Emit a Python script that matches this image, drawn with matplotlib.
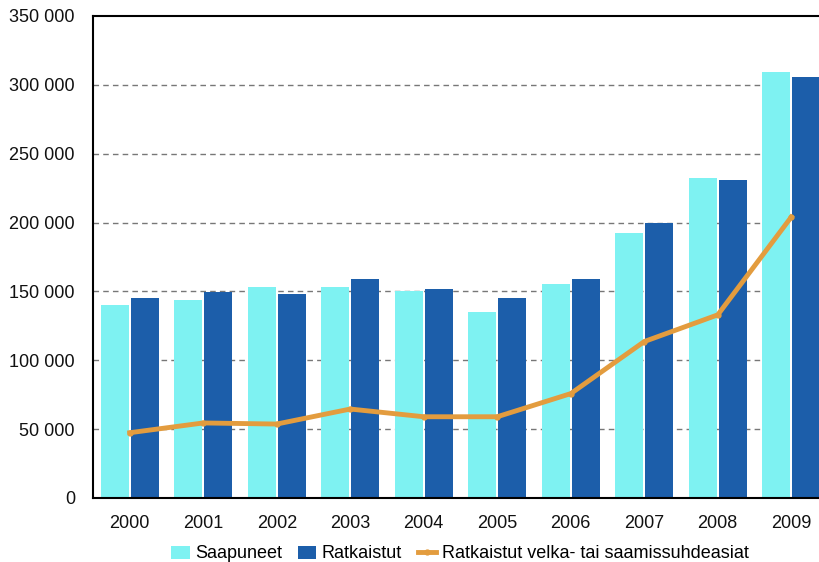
import numpy as np
import matplotlib.pyplot as plt
from matplotlib.ticker import FuncFormatter

plt.rcParams['font.family'] = ['Liberation Sans', 'DejaVu Sans']

years = ['2000', '2001', '2002', '2003', '2004', '2005', '2006', '2007', '2008', '2009']
saapuneet = [140300, 143700, 152900, 152900, 150000, 134700, 155400, 192700, 232700, 309000]
ratkaistut = [144900, 149300, 148100, 159000, 151700, 144900, 159000, 200000, 231000, 305700]
velka_saamis = [47400, 54500, 53700, 64600, 59000, 59000, 75800, 113600, 133000, 204000]

light = '#7EF2F2'
dark = '#1C5EAA'
orange = '#E39C3E'

fig = plt.figure(figsize=(8.19, 5.62), dpi=100)
# axes run past the right edge of the figure on purpose
ax = fig.add_axes([93 / 819, 64 / 562, 735 / 819, 482 / 562])

x = np.arange(len(years))
w = 0.38
b1 = ax.bar(x - 0.205, saapuneet, w, color=light, label='Saapuneet', zorder=2)
b2 = ax.bar(x + 0.205, ratkaistut, w, color=dark, label='Ratkaistut', zorder=2)
ln, = ax.plot(x, velka_saamis, color=orange, lw=3.5, marker='o', ms=3.5,
              label='Ratkaistut velka- tai saamissuhdeasiat', zorder=3)

ax.set_xlim(-0.5, 9.5)
ax.set_ylim(0, 350000)
ax.set_yticks(np.arange(0, 350001, 50000))
ax.yaxis.set_major_formatter(FuncFormatter(lambda v, p: '{:,.0f}'.format(v).replace(',', ' ')))
ax.set_xticks(x)
ax.set_xticklabels(years)
ax.tick_params(length=0, labelsize=13, colors='#111111')
ax.tick_params(axis='y', pad=13)
ax.tick_params(axis='x', pad=12)

for g in range(50000, 350000, 50000):
    ax.axhline(g, color='#777777', lw=1, ls=(0, (4, 3)), zorder=1)

for s in ['left', 'top', 'bottom']:
    ax.spines[s].set_color('black')
    ax.spines[s].set_linewidth(1.5)
ax.spines['right'].set_visible(False)

fig.legend(handles=[b1, b2, ln], loc='center', bbox_to_anchor=(460 / 819, 1 - 554 / 562),
           ncol=3, frameon=False, fontsize=13, handlelength=1.0, handleheight=0.7,
           handletextpad=0.3, columnspacing=0.9)

fig.savefig('out.png', dpi=100)
